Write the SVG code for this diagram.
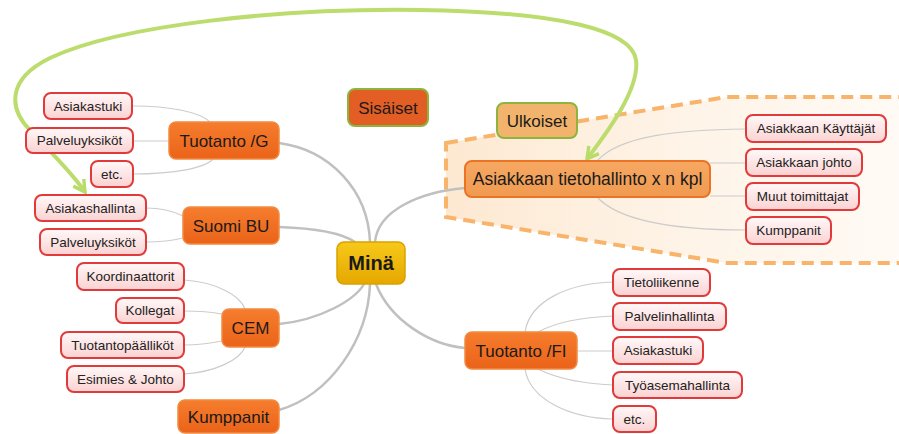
<svg xmlns="http://www.w3.org/2000/svg" width="899" height="434" viewBox="0 0 899 434">
<defs>
<linearGradient id="gLeaf" x1="0" y1="0" x2="0" y2="1"><stop offset="0" stop-color="#fff8f8"/><stop offset="1" stop-color="#fbd2d2"/></linearGradient>
<linearGradient id="gMain" x1="0" y1="0" x2="0" y2="1"><stop offset="0" stop-color="#f67d2e"/><stop offset="1" stop-color="#ea6318"/></linearGradient>
<linearGradient id="gRoot" x1="0" y1="0" x2="0" y2="1"><stop offset="0" stop-color="#f7c81a"/><stop offset="1" stop-color="#e5a800"/></linearGradient>
<linearGradient id="gCust" x1="0" y1="0" x2="0" y2="1"><stop offset="0" stop-color="#f6a862"/><stop offset="1" stop-color="#f09a50"/></linearGradient>
<linearGradient id="gZone" x1="0" y1="0" x2="1" y2="0"><stop offset="0" stop-color="#fde3c6" stop-opacity="0.8"/><stop offset="1" stop-color="#fef3e6" stop-opacity="0.4"/></linearGradient>
<marker id="ga" viewBox="0 0 14 14" refX="12" refY="7" markerWidth="16" markerHeight="16" markerUnits="userSpaceOnUse" orient="auto-start-reverse"><path d="M2,1.5 L12,7 L2,12.5" fill="none" stroke="#b8dc6a" stroke-width="3" stroke-linejoin="miter"/></marker>
<style>
.leaf{fill:url(#gLeaf);stroke:#e03a3a;stroke-width:2}
.main{fill:url(#gMain);stroke:#f28a42;stroke-width:1.5}
.lt{font-family:"Liberation Sans",Arial,sans-serif;font-size:13.5px;fill:#222;text-anchor:middle}
.mt{font-family:"Liberation Sans",Arial,sans-serif;font-size:17px;fill:#1a1a1a;text-anchor:middle}
.br{fill:none;stroke:#c0c0c0;stroke-width:2.5}
.sb{fill:none;stroke:#cccccc;stroke-width:1.2}
</style>
</defs>
<rect width="899" height="434" fill="#ffffff"/>
<g id="zone">
<polygon points="446,143 727,97 906,97 906,263 727,263 446,217" fill="url(#gZone)" stroke="#f7b46a" stroke-width="4" stroke-dasharray="12 7"/>
</g>
<g id="connectors">
<path class="br" d="M279 143 C330 150 368 190 370 242"/>
<path class="br" d="M279 227 C310 228 340 232 355 242"/>
<path class="br" d="M375 242 C378 210 420 192 465 188"/>
<path class="br" d="M279 324 C320 320 355 300 364 284"/>
<path class="br" d="M279 410 C330 395 368 340 370 284"/>
<path class="br" d="M376 284 C390 320 430 345 465 348"/>
<path class="sb" d="M133 106 C170 106 200 112 210 122"/>
<path class="sb" d="M133 141 L169 141"/>
<path class="sb" d="M133 174 C175 174 205 168 213 159"/>
<path class="sb" d="M146 208 C165 208 175 212 183 216"/>
<path class="sb" d="M146 242 C165 242 175 240 183 238"/>
<path class="sb" d="M184 280 C215 282 240 295 245 309"/>
<path class="sb" d="M184 311 C200 311 212 312 222 314"/>
<path class="sb" d="M184 345 C200 345 212 343 222 341"/>
<path class="sb" d="M184 374 C215 372 240 360 245 347"/>
<path class="sb" d="M597 161 C620 135 680 130 746 129"/>
<path class="sb" d="M710 163 L746 163"/>
<path class="sb" d="M710 196 L746 196"/>
<path class="sb" d="M597 197 C620 222 680 230 746 230"/>
<path class="sb" d="M525 332 C530 300 570 283 613 282"/>
<path class="sb" d="M538 332 C560 320 590 317 613 316"/>
<path class="sb" d="M577 351 L613 351"/>
<path class="sb" d="M538 369 C560 380 590 384 613 385"/>
<path class="sb" d="M525 369 C530 400 570 418 613 419"/>
<path d="M587 159 C605 135 640 90 636 60 C632 30 560 12 420 10 C280 8 120 25 50 58 C5 80 10 110 30 130 C48 150 70 170 85 192" fill="none" stroke="#bcdc6e" stroke-width="4" marker-start="url(#ga)" marker-end="url(#ga)"/>
</g>
<g id="n-mina"><rect x="337" y="242" width="68" height="42" rx="7" fill="url(#gRoot)" stroke="#d9a200" stroke-width="1.5"/><text x="371" y="270" class="mt" style="font-size:20px;font-weight:bold">Minä</text></g>
<g id="n-sisaiset"><rect x="348" y="89" width="80" height="37" rx="7" fill="#e35e24" stroke="#8db43c" stroke-width="2"/><text x="388" y="113.5" class="mt">Sisäiset</text></g>
<g id="n-ulkoiset"><rect x="497" y="103" width="80" height="35" rx="7" fill="#f2b46c" stroke="#8db43c" stroke-width="2"/><text x="537" y="126.5" class="mt">Ulkoiset</text></g>
<g id="n-tg"><rect class="main" x="169" y="122" width="110" height="37" rx="7"/><text x="224" y="146.5" class="mt">Tuotanto /G</text></g>
<g id="n-suomi"><rect class="main" x="183" y="207" width="96" height="37" rx="7"/><text x="231" y="231.5" class="mt">Suomi BU</text></g>
<g id="n-cem"><rect class="main" x="222" y="309" width="57" height="38" rx="7"/><text x="250.5" y="334" class="mt">CEM</text></g>
<g id="n-kump"><rect class="main" x="178" y="400" width="101" height="33" rx="7"/><text x="228.5" y="422.5" class="mt">Kumppanit</text></g>
<g id="n-tfi"><rect class="main" x="465" y="332" width="112" height="37" rx="7"/><text x="521" y="356.5" class="mt">Tuotanto /FI</text></g>
<g id="n-ath"><rect x="465" y="161" width="245" height="36" rx="7" fill="url(#gCust)" stroke="#ea7424" stroke-width="2"/><text x="587.5" y="185" class="mt" style="font-size:17.5px">Asiakkaan tietohallinto x n kpl</text></g>
<g id="l-a1"><rect class="leaf" x="44" y="93" width="88" height="26" rx="7"/><text class="lt" x="88" y="110.7">Asiakastuki</text></g>
<g id="l-a2"><rect class="leaf" x="26" y="128" width="107" height="25" rx="7"/><text class="lt" x="79.5" y="145.2">Palveluyksiköt</text></g>
<g id="l-a3"><rect class="leaf" x="91" y="161" width="42" height="26" rx="7"/><text class="lt" x="112" y="178.7">etc.</text></g>
<g id="l-b1"><rect class="leaf" x="35" y="195" width="111" height="26" rx="7"/><text class="lt" x="90.5" y="212.7">Asiakashallinta</text></g>
<g id="l-b2"><rect class="leaf" x="40" y="229" width="106" height="26" rx="7"/><text class="lt" x="93" y="246.7">Palveluyksiköt</text></g>
<g id="l-c1"><rect class="leaf" x="77" y="263" width="107" height="27" rx="7"/><text class="lt" x="130.5" y="281.2">Koordinaattorit</text></g>
<g id="l-c2"><rect class="leaf" x="116" y="298" width="68" height="25" rx="7"/><text class="lt" x="150" y="315.2">Kollegat</text></g>
<g id="l-c3"><rect class="leaf" x="61" y="332" width="123" height="26" rx="7"/><text class="lt" x="122.5" y="349.7">Tuotantopäälliköt</text></g>
<g id="l-c4"><rect class="leaf" x="67" y="366" width="117" height="26" rx="7"/><text class="lt" x="125.5" y="383.7">Esimies &amp; Johto</text></g>
<g id="l-d1"><rect class="leaf" x="746" y="115" width="140" height="27" rx="7"/><text class="lt" x="816" y="133.2">Asiakkaan Käyttäjät</text></g>
<g id="l-d2"><rect class="leaf" x="746" y="149" width="116" height="27" rx="7"/><text class="lt" x="804" y="167.2">Asiakkaan johto</text></g>
<g id="l-d3"><rect class="leaf" x="746" y="183" width="113" height="27" rx="7"/><text class="lt" x="802.5" y="201.2">Muut toimittajat</text></g>
<g id="l-d4"><rect class="leaf" x="746" y="217" width="85" height="27" rx="7"/><text class="lt" x="788.5" y="235.2">Kumppanit</text></g>
<g id="l-e1"><rect class="leaf" x="613" y="269" width="97" height="27" rx="7"/><text class="lt" x="661.5" y="287.2">Tietoliikenne</text></g>
<g id="l-e2"><rect class="leaf" x="613" y="303" width="113" height="27" rx="7"/><text class="lt" x="669.5" y="321.2">Palvelinhallinta</text></g>
<g id="l-e3"><rect class="leaf" x="613" y="337" width="90" height="27" rx="7"/><text class="lt" x="658" y="355.2">Asiakastuki</text></g>
<g id="l-e4"><rect class="leaf" x="613" y="372" width="129" height="26" rx="7"/><text class="lt" x="677.5" y="389.7">Työasemahallinta</text></g>
<g id="l-e5"><rect class="leaf" x="613" y="406" width="43" height="26" rx="7"/><text class="lt" x="634.5" y="423.7">etc.</text></g>
</svg>
